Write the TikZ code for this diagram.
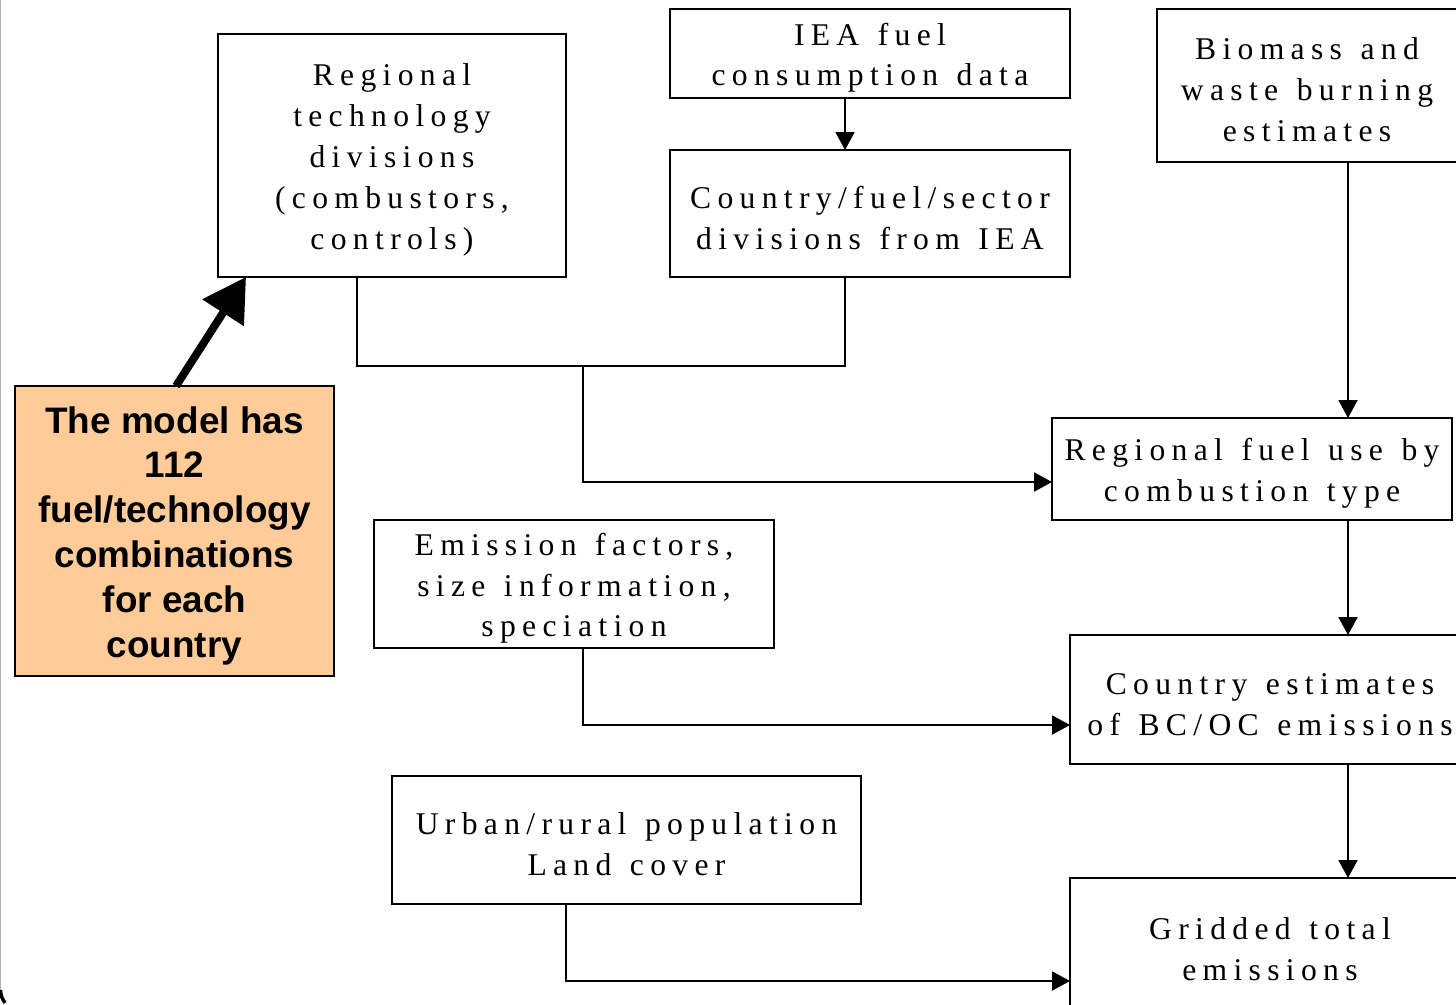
\documentclass[tikz,border=0pt]{standalone}
\usepackage{fontspec}
\setmainfont[LetterSpace=20, WordSpace=1.3]{Liberation Serif}
\newfontfamily\notefont{Liberation Sans}
\usepackage{tikz}
\usetikzlibrary{arrows.meta}
\definecolor{notefill}{RGB}{255,204,153}
\newcommand\lead[1]{\rule{0pt}{#1}}

\begin{document}
\begin{tikzpicture}
	[
		x=0.02cm, y=-0.02cm, line width=1.1pt,
		box/.style 2 args = {draw, shape=rectangle, align=center, inner sep=0pt, outer sep=0pt,
			minimum width=#1*0.02cm, minimum height=#2*0.02cm,
			font=\fontsize{18}{23.25}\selectfont},
		note/.style = {box={319}{290}, fill=notefill, font=\notefont\bfseries\fontsize{21}{25.5}\selectfont},
		arr/.style = {-{Triangle[length=0.36cm, width=0.38cm]}},
	]

  \useasboundingbox (0,0) rectangle (1456,1004);
  \clip (0,0) rectangle (1456,1004);
  \draw[gray!60, line width=1pt] (0.5,-10) -- (0.5,990);
  \draw[line width=2pt] (0.5,990) arc[start angle=180, end angle=140, radius=20];

  \node[box={348}{243}] (tech) at (392,155.5) {\lead{17.5pt}Regional\\ technology\\ divisions\\ (combustors,\\ controls)};
  \node[box={400}{89}] (iea) at (870,53.5) {\lead{17.5pt}IEA fuel\\ consumption data};
  \node[box={400}{127}] (cfs) at (870,213.5) {\lead{17.5pt}Country/fuel/sector\\ divisions from IEA};
  \node[box={300}{153}] (bio) at (1307,85.5) {\lead{17.5pt}Biomass and\\ waste burning\\ estimates};
  \node[box={400}{102}] (rfu) at (1252,469) {\lead{17.5pt}Regional fuel use by\\ combustion type};
  \node[box={400}{128}] (emf) at (574,584) {\lead{17.5pt}Emission factors,\\ size information,\\ speciation};
  \node[box={400}{129}] (cest) at (1270,699.5) {\lead{17.5pt}Country estimates\\ of BC/OC emissions};
  \node[box={469}{128}] (urb) at (626.5,840) {\lead{17.5pt}Urban/rural population\\ Land cover};
  \node[box={400}{134}] (grid) at (1270,945) {\lead{17.5pt}Gridded total\\ emissions};
  \node[note] (model) at (174.5,531) {\lead{20.5pt}The model has\\ 112\\ fuel/technology\\ combinations\\ for each\\ country};

  \coordinate (join) at (583,366);

  \draw[arr] (iea.south -| 845,0) -- (cfs.north -| 845,0);
  \draw (tech.south -| 357,0) |- (join) -| (cfs.south -| 845,0);
  \draw[arr] (join) |- (rfu.west |- 0,482);
  \draw[arr] (bio.south -| 1348,0) -- (rfu.north -| 1348,0);
  \draw[arr] (rfu.south -| 1348,0) -- (cest.north -| 1348,0);
  \draw[arr] (emf.south -| 583,0) |- (cest.west |- 0,725);
  \draw[arr] (cest.south -| 1348,0) -- (grid.north -| 1348,0);
  \draw[arr] (urb.south -| 566,0) |- (grid.west |- 0,981);
  \draw[line width=4.5pt, -{Triangle[length=0.85cm, width=0.95cm]}] (model.north -| 176,0) -- (tech.south -| 246,0);

\end{tikzpicture}
\end{document}
